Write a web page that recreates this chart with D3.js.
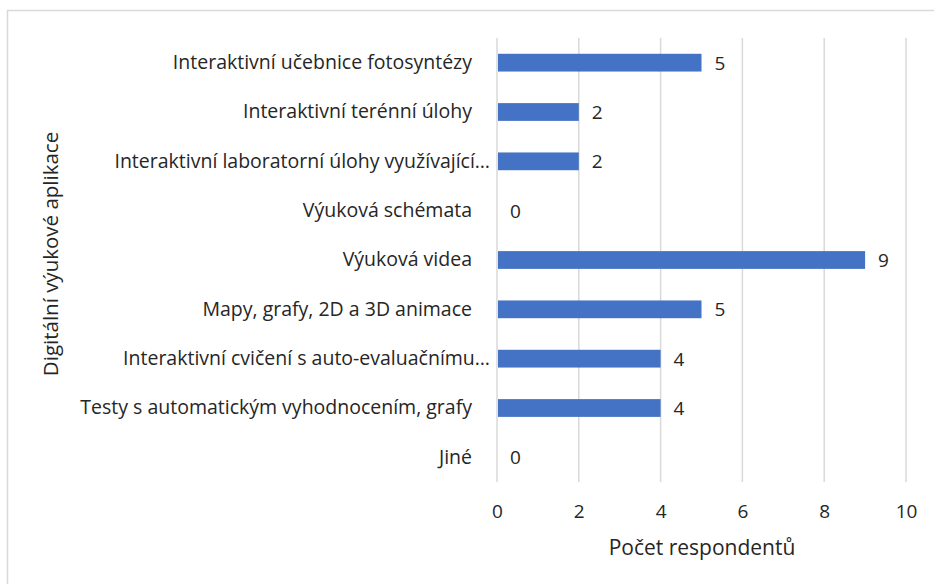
<!DOCTYPE html>
<html>
<head>
<meta charset="utf-8">
<script src="https://cdn.jsdelivr.net/npm/d3@7"></script>
<style>
  body { margin: 0; background: #fff; }
  svg text { font-family: "Open Sans", "Noto Sans", sans-serif; fill: #262626; }
</style>
</head>
<body>
<div id="chart"></div>
<script>
// categories, top to bottom
var categories = [
  'Interaktivní učebnice fotosyntézy',
  'Interaktivní terénní úlohy',
  'Interaktivní laboratorní úlohy využívající…',
  'Výuková schémata',
  'Výuková videa',
  'Mapy, grafy, 2D a 3D animace',
  'Interaktivní cvičení s auto-evaluačnímu…',
  'Testy s automatickým vyhodnocením, grafy',
  'Jiné'
];
var values = [5, 2, 2, 0, 9, 5, 4, 4, 0];
var xTicks = [0, 2, 4, 6, 8, 10];
var xTitle = 'Počet respondentů';
var yTitle = 'Digitální výukové aplikace';

var width = 934, height = 584;
var margin = { left: 497, right: 28, top: 38, bottom: 102 };
var innerW = width - margin.left - margin.right,
  innerH = height - margin.top - margin.bottom;

var svg = d3.select('#chart').append('svg')
  .attr('width', width)
  .attr('height', height);

// chart frame (runs off the right and bottom edges)
svg.append('rect')
  .attr('x', 7.5).attr('y', 10.5)
  .attr('width', 940).attr('height', 600)
  .attr('fill', 'none')
  .attr('stroke', '#d9d9d9')
  .attr('stroke-width', 1.5);

var g = svg.append('g')
  .attr('transform', 'translate(' + margin.left + ',' + margin.top + ')');

var x = d3.scaleLinear().domain([0, 10]).range([0, innerW]);
var y = d3.scaleBand().domain(categories).range([0, innerH])
  .paddingInner(0.64).paddingOuter(0.32);

// gridlines
g.selectAll('line.grid')
  .data(xTicks)
  .enter().append('line')
  .attr('class', 'grid')
  .attr('x1', function (d) { return x(d); })
  .attr('x2', function (d) { return x(d); })
  .attr('y1', 0)
  .attr('y2', innerH)
  .attr('stroke', '#d9d9d9')
  .attr('stroke-width', 1.5);

// bars
g.selectAll('rect.bar')
  .data(values)
  .enter().append('rect')
  .attr('class', 'bar')
  .attr('x', x(0) + 1)
  .attr('y', function (d, i) { return y(categories[i]); })
  .attr('width', function (d) { return Math.max(0, x(d) - x(0) - 1); })
  .attr('height', y.bandwidth())
  .attr('fill', '#4472c4');

// value labels
g.selectAll('text.val')
  .data(values)
  .enter().append('text')
  .attr('class', 'val')
  .attr('x', function (d) { return x(d) + 13; })
  .attr('y', function (d, i) { return y(categories[i]) + y.bandwidth() / 2; })
  .attr('dy', '0.36em')
  .style('font-size', '19px')
  .text(function (d) { return d; });

// y axis (category labels only)
var yAxis = d3.axisLeft(y).tickSize(0).tickPadding(25);
var gY = g.append('g').call(yAxis);
gY.select('.domain').remove();
gY.selectAll('text')
  .style('font-size', '19.5px')
  .style('font-family', '"Open Sans", sans-serif')
  .attr('fill', '#262626')
  // truncated labels sit closer to the axis, like in Excel
  .attr('x', function (d) { return /…$/.test(d) ? -7 : -25; });

// x axis
var xAxis = d3.axisBottom(x).tickValues(xTicks).tickSize(0).tickPadding(0);
var gX = g.append('g')
  .attr('transform', 'translate(0,' + innerH + ')')
  .call(xAxis);
gX.select('.domain').remove();
gX.selectAll('text')
  .style('font-size', '19px')
  .style('font-family', '"Open Sans", sans-serif')
  .attr('fill', '#262626')
  .attr('dy', null)
  .attr('y', 36);

// axis titles
svg.append('text')
  .attr('x', 702)
  .attr('y', 555)
  .attr('text-anchor', 'middle')
  .style('font-size', '21px')
  .text(xTitle);

svg.append('text')
  .attr('transform', 'translate(58,254) rotate(-90)')
  .attr('text-anchor', 'middle')
  .style('font-size', '20.5px')
  .text(yTitle);
</script>
</body>
</html>
